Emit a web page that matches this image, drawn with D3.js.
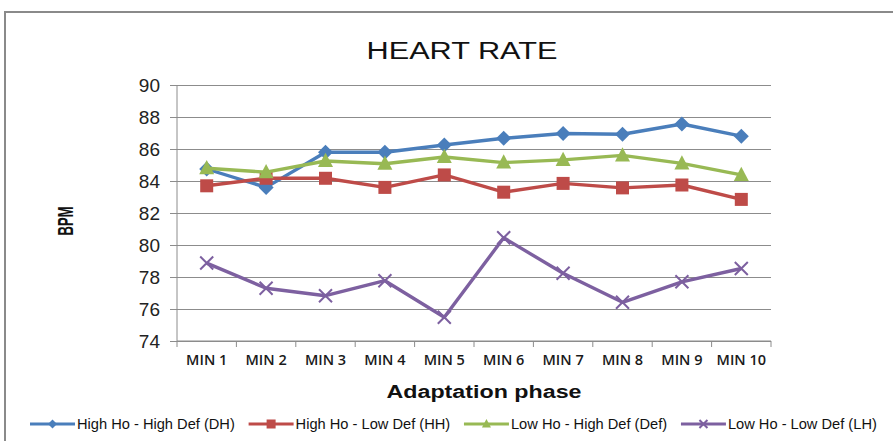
<!DOCTYPE html>
<html>
<head>
<meta charset="utf-8">
<script src="https://cdn.jsdelivr.net/npm/d3@7"></script>
<style>
  html, body { margin: 0; padding: 0; background: #fff; }
  svg { display: block; }
</style>
</head>
<body>
<svg id="chart" width="893" height="441"></svg>
<script>
// Heart rate per minute of the adaptation phase, four groups
const categories = ["MIN 1", "MIN 2", "MIN 3", "MIN 4", "MIN 5", "MIN 6", "MIN 7", "MIN 8", "MIN 9", "MIN 10"];
const highHoHighDef = [84.75, 83.6, 85.8, 85.8, 86.25, 86.67, 86.97, 86.92, 87.56, 86.8];
const highHoLowDef  = [83.7, 84.17, 84.17, 83.6, 84.38, 83.3, 83.85, 83.57, 83.75, 82.85];
const lowHoHighDef  = [84.8, 84.55, 85.25, 85.08, 85.5, 85.15, 85.32, 85.6, 85.1, 84.38];
const lowHoLowDef   = [78.87, 77.3, 76.83, 77.77, 75.48, 80.45, 78.23, 76.42, 77.7, 78.53];
const yTicks = [74, 76, 78, 80, 82, 84, 86, 88, 90];
const seriesNames = ["High Ho - High Def (DH)", "High Ho - Low Def (HH)", "Low Ho - High Def (Def)", "Low Ho - Low Def (LH)"];

const series = [
  { name: seriesNames[0], values: highHoHighDef, color: "#4A7EBB", marker: "diamond" },
  { name: seriesNames[1], values: highHoLowDef,  color: "#BE4B48", marker: "square" },
  { name: seriesNames[2], values: lowHoHighDef,  color: "#98B954", marker: "triangle" },
  { name: seriesNames[3], values: lowHoLowDef,   color: "#7D60A0", marker: "cross" }
];

const svg = d3.select("#chart");
const plot = { left: 177, right: 771, top: 85, bottom: 341 };

// outer chart frame
svg.append("rect")
  .attr("x", 5).attr("y", 12)
  .attr("width", 920).attr("height", 460)
  .attr("fill", "#fff")
  .attr("stroke", "#8a8a8a").attr("stroke-width", 2);

const x = d3.scaleBand().domain(categories).range([plot.left, plot.right]).padding(0);
const y = d3.scaleLinear().domain([74, 90]).range([plot.bottom, plot.top]);
const cx = c => x(c) + x.bandwidth() / 2;

// horizontal gridlines with short outward ticks
const yAxis = d3.axisLeft(y).tickValues(yTicks).tickSize(-(plot.right - plot.left)).tickFormat("").tickSizeOuter(0);
const gy = svg.append("g").attr("transform", `translate(${plot.left},0)`).call(yAxis);
gy.select(".domain").remove();
gy.selectAll(".tick line").attr("stroke", "#8c8c8c").attr("stroke-width", 1).attr("x1", -7);

// y tick labels
svg.append("g").selectAll("text").data(yTicks).join("text")
  .attr("x", 160).attr("y", d => y(d) + 6.5)
  .attr("text-anchor", "end")
  .attr("font-family", "'Liberation Sans', Arial, sans-serif")
  .attr("font-size", 19).attr("fill", "#222")
  .text(d => d);

// y axis line
svg.append("line")
  .attr("x1", plot.left).attr("x2", plot.left)
  .attr("y1", y(90)).attr("y2", y(74))
  .attr("stroke", "#8c8c8c").attr("stroke-width", 1);

// x axis line and category boundary ticks
svg.append("line")
  .attr("x1", plot.left).attr("x2", plot.right)
  .attr("y1", y(74)).attr("y2", y(74))
  .attr("stroke", "#8c8c8c").attr("stroke-width", 1);
const edges = categories.map(c => x(c)).concat([x.range()[1]]);
svg.append("g").selectAll("line").data(edges).join("line")
  .attr("x1", d => d).attr("x2", d => d)
  .attr("y1", y(74)).attr("y2", y(74) + 6)
  .attr("stroke", "#8c8c8c").attr("stroke-width", 1);

// category labels
svg.append("g").selectAll("text").data(categories).join("text")
  .attr("x", d => cx(d)).attr("y", 365)
  .attr("text-anchor", "middle")
  .attr("font-family", "'Open Sans', 'Liberation Sans', sans-serif")
  .attr("font-weight", 600)
  .attr("font-size", 14.5).attr("fill", "#1a1a1a")
  .text(d => d);

// title
svg.append("text")
  .attr("x", 462).attr("y", 58.5)
  .attr("text-anchor", "middle")
  .attr("font-family", "'Liberation Sans', Arial, sans-serif")
  .attr("font-size", 23.5).attr("fill", "#111")
  .attr("textLength", 191).attr("lengthAdjust", "spacingAndGlyphs")
  .text("HEART RATE");

// axis titles
svg.append("text")
  .attr("x", 484).attr("y", 398)
  .attr("text-anchor", "middle")
  .attr("font-family", "'Liberation Sans', Arial, sans-serif")
  .attr("font-weight", "bold")
  .attr("font-size", 18).attr("fill", "#111")
  .attr("textLength", 195).attr("lengthAdjust", "spacingAndGlyphs")
  .text("Adaptation phase");

svg.append("text")
  .attr("transform", "translate(73,221) rotate(-90)")
  .attr("text-anchor", "middle")
  .attr("font-family", "'Liberation Sans', Arial, sans-serif")
  .attr("font-weight", "bold")
  .attr("font-size", 22).attr("fill", "#111")
  .attr("textLength", 29).attr("lengthAdjust", "spacingAndGlyphs")
  .text("BPM");

// marker shapes
function drawMarker(g, kind, color, px, py, s) {
  if (kind === "diamond") {
    g.append("path").attr("d", `M${px},${py - s}L${px + s},${py}L${px},${py + s}L${px - s},${py}Z`).attr("fill", color);
  } else if (kind === "square") {
    g.append("rect").attr("x", px - s).attr("y", py - s).attr("width", 2 * s).attr("height", 2 * s).attr("fill", color);
  } else if (kind === "triangle") {
    g.append("path").attr("d", `M${px},${py - s * 1.1}L${px + s},${py + s * 0.8}L${px - s},${py + s * 0.8}Z`).attr("fill", color);
  } else {
    g.append("path").attr("d", `M${px - s},${py - s}L${px + s},${py + s}M${px - s},${py + s}L${px + s},${py - s}`)
      .attr("stroke", color).attr("stroke-width", 2).attr("fill", "none");
  }
}

const line = d3.line().x((d, i) => cx(categories[i])).y(d => y(d));
const sizes = { diamond: 7.5, square: 6.5, triangle: 7.5, cross: 6.5 };

series.forEach(s => {
  const g = svg.append("g");
  g.append("path").datum(s.values)
    .attr("d", line)
    .attr("fill", "none").attr("stroke", s.color)
    .attr("stroke-width", 3.4).attr("stroke-linejoin", "round");
  s.values.forEach((v, i) => drawMarker(g, s.marker, s.color, cx(categories[i]), y(v), sizes[s.marker]));
});

// legend: one row between x = 30 and x = 877; all names share one horizontal squeeze
const legendY = 424, legendStart = 30, legendEnd = 877, keyW = 45, keyGap = 2;
const legendGroups = series.map(s => {
  const g = svg.append("g");
  const t = g.append("text")
    .attr("font-family", "'Liberation Sans', sans-serif")
    .attr("font-size", 15).attr("fill", "#111")
    .text(s.name);
  return { s, g, t, w: t.node().getComputedTextLength() };
});
const squeeze = 158 / legendGroups[0].w;
const totalText = d3.sum(legendGroups, d => d.w * squeeze);
const between = (legendEnd - legendStart - legendGroups.length * (keyW + keyGap) - totalText) / (legendGroups.length - 1);
let cursor = legendStart;
legendGroups.forEach(({ s, g, t, w }) => {
  g.append("line").attr("x1", cursor).attr("x2", cursor + keyW).attr("y1", legendY).attr("y2", legendY)
    .attr("stroke", s.color).attr("stroke-width", 3);
  drawMarker(g, s.marker, s.color, cursor + keyW / 2, legendY, s.marker === "cross" ? 4 : 4.5);
  t.attr("transform", `translate(${cursor + keyW + keyGap},${legendY + 5}) scale(${squeeze},1)`);
  cursor += keyW + keyGap + w * squeeze + between;
});
</script>
</body>
</html>
